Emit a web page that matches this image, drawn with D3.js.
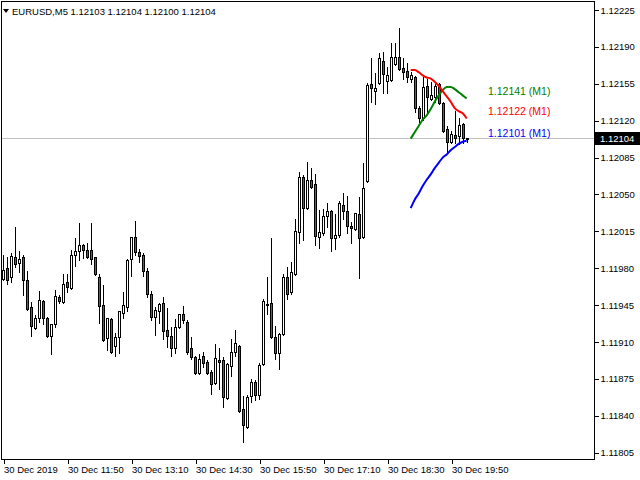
<!DOCTYPE html>
<html>
<head>
<meta charset="utf-8">
<script src="https://cdn.jsdelivr.net/npm/d3@7"></script>
<style>
body { margin: 0; background: #fff; }
svg { display: block; font-family: "Liberation Sans", Arial, sans-serif; }
</style>
</head>
<body>
<script>
// _____________ data (EURUSD M5, one bar every 5 minutes)
var header = "EURUSD,M5  1.12103 1.12104 1.12100 1.12104"

var opens = [
  1.11970,1.11980,1.11972,1.11991,1.11985,1.11991,1.11969,1.11943,1.11923,1.11933,
  1.11949,1.11933,1.11916,1.11927,1.11953,1.11948,1.11967,1.11961,1.11993,1.11996,
  1.12002,1.11997,1.11997,1.11991,1.11972,1.11945,1.11914,1.11932,1.11906,1.11915,
  1.11938,1.11943,1.11989,1.12010,1.11995,1.11993,1.11977,1.11956,1.11934,1.11939,
  1.11947,1.11921,1.11916,1.11904,1.11924,1.11937,1.11929,1.11904,1.11896,1.11881,
  1.11897,1.11891,1.11882,1.11871,1.11893,1.11893,1.11857,1.11887,1.11901,1.11906,
  1.11846,1.11829,1.11859,1.11872,1.11860,1.11889,1.11946,1.11947,1.11915,1.11900,
  1.11918,1.11972,1.11957,1.11975,1.12014,1.12067,1.12037,1.12064,1.12060,1.12010,
  1.12013,1.12030,1.12034,1.12009,1.12012,1.12040,1.12034,1.12020,1.12017,1.12031,
  1.12010,1.12063,1.12155,1.12148,1.12156,1.12177,1.12158,1.12159,1.12174,1.12180,
  1.12170,1.12167,1.12160,1.12161,1.12132,1.12123,1.12153,1.12141,1.12142,1.12155,
  1.12137,1.12112,1.12100,1.12106,1.12105,1.12117,1.12103
]
var highs = [
  1.11993,1.11991,1.11994,1.12019,1.11996,1.11993,1.11977,1.11948,1.11936,1.11958,
  1.11950,1.11934,1.11927,1.11959,1.11955,1.11975,1.11975,1.11997,1.12009,1.12023,
  1.12003,1.12004,1.12023,1.11991,1.11975,1.11964,1.11933,1.11933,1.11919,1.11939,
  1.11957,1.11989,1.12010,1.12025,1.11998,1.11994,1.11980,1.11958,1.11943,1.11947,
  1.11953,1.11942,1.11924,1.11932,1.11937,1.11944,1.11931,1.11915,1.11897,1.11899,
  1.11901,1.11893,1.11883,1.11908,1.11904,1.11896,1.11890,1.11913,1.11921,1.11907,
  1.11859,1.11860,1.11875,1.11874,1.11890,1.11951,1.11972,1.12009,1.11925,1.11919,
  1.11975,1.11981,1.11986,1.12027,1.12071,1.12068,1.12081,1.12075,1.12069,1.12035,
  1.12036,1.12042,1.12035,1.12031,1.12044,1.12051,1.12049,1.12024,1.12032,1.12048,
  1.12080,1.12156,1.12179,1.12165,1.12184,1.12185,1.12171,1.12194,1.12194,1.12208,
  1.12179,1.12175,1.12166,1.12162,1.12134,1.12161,1.12160,1.12157,1.12155,1.12156,
  1.12138,1.12115,1.12110,1.12129,1.12123,1.12118,1.12104
]
var lows = [
  1.11969,1.11965,1.11967,1.11981,1.11976,1.11955,1.11940,1.11916,1.11922,1.11929,
  1.11927,1.11915,1.11899,1.11924,1.11947,1.11947,1.11957,1.11960,1.11982,1.11988,
  1.11990,1.11990,1.11984,1.11974,1.11928,1.11911,1.11902,1.11900,1.11897,1.11900,
  1.11933,1.11939,1.11973,1.11993,1.11986,1.11973,1.11953,1.11931,1.11917,1.11928,
  1.11913,1.11905,1.11897,1.11900,1.11923,1.11928,1.11899,1.11894,1.11880,1.11880,
  1.11886,1.11880,1.11861,1.11870,1.11865,1.11848,1.11856,1.11878,1.11897,1.11844,
  1.11815,1.11828,1.11853,1.11855,1.11856,1.11888,1.11937,1.11914,1.11894,1.11884,
  1.11917,1.11951,1.11956,1.11974,1.12004,1.12007,1.12036,1.12056,1.12002,1.11999,
  1.12012,1.12019,1.11996,1.11998,1.12010,1.12027,1.12013,1.12004,1.12016,1.11971,
  1.12009,1.12062,1.12138,1.12136,1.12155,1.12146,1.12146,1.12158,1.12173,1.12168,
  1.12160,1.12157,1.12157,1.12128,1.12119,1.12121,1.12127,1.12140,1.12138,1.12136,
  1.12109,1.12089,1.12099,1.12099,1.12098,1.12099,1.12100
]
var closes = [
  1.11978,1.11969,1.11992,1.11984,1.11989,1.11969,1.11941,1.11925,1.11933,1.11950,
  1.11933,1.11916,1.11927,1.11954,1.11949,1.11965,1.11962,1.11993,1.11996,1.12002,
  1.11997,1.11991,1.11989,1.11975,1.11944,1.11912,1.11933,1.11901,1.11915,1.11939,
  1.11945,1.11988,1.12010,1.11995,1.11992,1.11977,1.11956,1.11934,1.11940,1.11946,
  1.11920,1.11916,1.11904,1.11924,1.11937,1.11931,1.11901,1.11896,1.11881,1.11894,
  1.11890,1.11881,1.11870,1.11895,1.11891,1.11858,1.11889,1.11901,1.11909,1.11845,
  1.11831,1.11858,1.11872,1.11860,1.11888,1.11949,1.11945,1.11915,1.11900,1.11918,
  1.11972,1.11956,1.11976,1.12015,1.12067,1.12037,1.12064,1.12057,1.12011,1.12014,
  1.12030,1.12034,1.12009,1.12012,1.12042,1.12034,1.12020,1.12018,1.12032,1.12009,
  1.12056,1.12154,1.12151,1.12151,1.12179,1.12164,1.12163,1.12180,1.12180,1.12169,
  1.12166,1.12161,1.12163,1.12132,1.12123,1.12152,1.12142,1.12144,1.12153,1.12137,
  1.12110,1.12100,1.12107,1.12104,1.12116,1.12104,1.12104
]

var timeIdx = [0, 16, 32, 48, 64, 80, 96, 112]
var timeLabels = ["30 Dec 2019", "30 Dec 11:50", "30 Dec 13:10", "30 Dec 14:30",
                  "30 Dec 15:50", "30 Dec 17:10", "30 Dec 18:30", "30 Dec 19:50"]
var priceTicks = [1.12225, 1.12190, 1.12155, 1.12120, 1.12085, 1.12050, 1.12015,
                  1.11980, 1.11945, 1.11910, 1.11875, 1.11840, 1.11805]
var lastPrice = 1.12104

// M1 projection lines, sampled once per M5 bar
var lineIdx = [101.8,102.8,103.8,104.8,105.8,106.8,107.8,108.8,109.8,110.8,111.8,112.8,113.8,114.8,115.8]
var greenLine = [1.12103,1.12109,1.12115,1.12121,1.12125,1.12131,1.12138,1.12144,1.12149,1.12152,1.12152,1.12150,1.12147,1.12144,1.12141]
var redLine   = [1.12168,1.12168,1.12166,1.12163,1.12161,1.12160,1.12157,1.12153,1.12148,1.12143,1.12138,1.12132,1.12129,1.12127,1.12122]
var blueLine  = [1.12037,1.12045,1.12051,1.12058,1.12064,1.12069,1.12075,1.12080,1.12085,1.12088,1.12092,1.12095,1.12098,1.12100,1.12101]
var lineLabels = [
  { name: "1.12141 (M1)", color: "#008000", value: greenLine },
  { name: "1.12122 (M1)", color: "#ff0000", value: redLine },
  { name: "1.12101 (M1)", color: "#0000ff", value: blueLine }
]

// _____________ render
var W = 640, H = 480
var svg = d3.select('body').append('svg')
    .attr('width', W)
    .attr('height', H)

svg.append('rect').attr('width', W).attr('height', H).attr('fill', '#fff')

var x = d3.scaleLinear().domain([0, 116]).range([3.5, 467.5])
var y = d3.scaleLinear().domain([1.11805, 1.12225]).range([452.7, 10])

// current price line
svg.append('line')
    .attr('x1', 1).attr('x2', 594)
    .attr('y1', Math.round(y(lastPrice)) + 0.5).attr('y2', Math.round(y(lastPrice)) + 0.5)
    .attr('stroke', '#c0c0c0')
    .attr('shape-rendering', 'crispEdges')

// candles
var bars = d3.range(opens.length)
var candles = svg.append('g').attr('class', 'candles')
    .attr('shape-rendering', 'crispEdges')

candles.selectAll('line')
    .data(bars)
    .enter()
    .append('line')
        .attr('x1', function (i) { return x(i) })
        .attr('x2', function (i) { return x(i) })
        .attr('y1', function (i) { return Math.round(y(highs[i])) })
        .attr('y2', function (i) { return Math.round(y(lows[i])) + 1 })
        .attr('stroke', '#000')

candles.selectAll('rect')
    .data(bars)
    .enter()
    .append('rect')
        .attr('x', function (i) { return x(i) - 1 })
        .attr('y', function (i) { return Math.round(y(Math.max(opens[i], closes[i]))) + 0.5 })
        .attr('width', 2)
        .attr('height', function (i) {
            var t = Math.round(y(Math.max(opens[i], closes[i])))
            var b = Math.round(y(Math.min(opens[i], closes[i])))
            return Math.max(b - t, 1)
        })
        .attr('fill', function (i) { return closes[i] >= opens[i] ? '#fff' : '#5f5f5f' })
        .attr('stroke', '#000')

// projection lines
var line = d3.line()
    .x(function (d, i) { return x(lineIdx[i]) })
    .y(function (d) { return y(d) })
    .curve(d3.curveMonotoneX)

svg.selectAll('path.proj')
    .data(lineLabels)
    .enter()
    .append('path')
        .attr('class', 'proj')
        .attr('d', function (d) { return line(d.value) })
        .attr('fill', 'none')
        .attr('stroke', function (d) { return d.color })
        .attr('stroke-width', 2)

svg.selectAll('text.proj')
    .data(lineLabels)
    .enter()
    .append('text')
        .attr('class', 'proj')
        .attr('x', 488)
        .attr('y', function (d, i) { return [95, 115, 137][i] })
        .attr('font-size', 10.5)
        .attr('fill', function (d) { return d.color })
        .text(function (d) { return d.name })

// frame
svg.append('path')
    .attr('d', 'M1.5,1.5H594.5V459.5H1.5Z')
    .attr('fill', 'none')
    .attr('stroke', '#000')
    .attr('shape-rendering', 'crispEdges')

// price axis
var yAxis = svg.append('g')
    .attr('transform', 'translate(594.5,0)')
    .call(d3.axisRight(y).tickValues(priceTicks).tickSize(4).tickPadding(2)
        .tickFormat(d3.format('.5f')))
yAxis.select('.domain').remove()
yAxis.selectAll('line').attr('shape-rendering', 'crispEdges')
yAxis.selectAll('text')
    .attr('font-family', '"Liberation Sans", Arial, sans-serif')
    .attr('font-size', 9.5)
    .attr('fill', '#000')

// last price marker
var yp = y(lastPrice)
svg.append('rect')
    .attr('x', 595).attr('y', Math.round(yp) - 6)
    .attr('width', 45).attr('height', 13)
    .attr('fill', '#000')
svg.append('text')
    .attr('x', 600).attr('y', Math.round(yp) + 4)
    .attr('font-size', 9.5)
    .attr('fill', '#fff')
    .text(d3.format('.5f')(lastPrice))

// time axis
var xAxis = svg.append('g')
    .attr('transform', 'translate(0,459.5)')
    .call(d3.axisBottom(x).tickValues(timeIdx).tickSize(4).tickPadding(3)
        .tickFormat(function (d, i) { return timeLabels[i] }))
xAxis.select('.domain').remove()
xAxis.selectAll('line').attr('shape-rendering', 'crispEdges')
xAxis.selectAll('text')
    .attr('text-anchor', 'start')
    .attr('x', 0)
    .attr('font-family', '"Liberation Sans", Arial, sans-serif')
    .attr('font-size', 9.5)
    .attr('fill', '#000')

// header
svg.append('path')
    .attr('d', 'M3,9H9L6,13Z')
    .attr('fill', '#000')
svg.append('text')
    .attr('x', 12).attr('y', 15)
    .attr('font-size', 9.5)
    .attr('fill', '#000')
    .text(header)
</script>
</body>
</html>
